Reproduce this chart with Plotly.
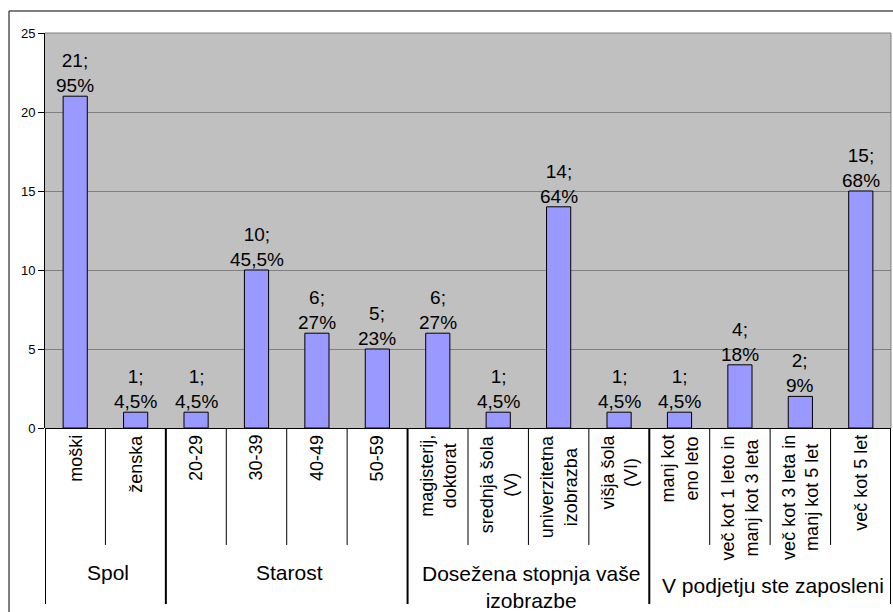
import plotly.graph_objects as go

# Survey answers: category labels, counts and share of respondents
categories = [
    "moški", "ženska",
    "20-29", "30-39", "40-49", "50-59",
    "magisterij,<br>doktorat", "srednja šola<br>(V)", "univerzitetna<br>izobrazba", "višja šola<br>(VI)",
    "manj kot<br>eno leto", "več kot 1 leto in<br>manj kot 3 leta", "več kot 3 leta in<br>manj kot 5 let", "več kot 5 let",
]
counts = [21, 1, 1, 10, 6, 5, 6, 1, 14, 1, 1, 4, 2, 15]
shares = ["95%", "4,5%", "4,5%", "45,5%", "27%", "23%", "27%", "4,5%", "64%", "4,5%", "4,5%", "18%", "9%", "68%"]

# Question groups: title and the index range of their answers
group_titles = ["Spol", "Starost", "Dosežena stopnja vaše<br>izobrazbe", "V podjetju ste zaposleni"]
group_spans = [(0, 1), (2, 5), (6, 9), (10, 13)]

y_ticks = [0, 5, 10, 15, 20, 25]

FONT = "Liberation Sans, Arial, sans-serif"
x_idx = list(range(len(categories)))

fig = go.Figure(
    go.Bar(
        x=x_idx,
        y=counts,
        marker=dict(color="#9999FF", line=dict(color="black", width=1)),
        hoverinfo="skip",
    )
)

shapes = []
annotations = []

# Value labels above the bars: "count;" over "share"
for i, (c, s) in enumerate(zip(counts, shares)):
    annotations.append(dict(x=i, y=c, xref="x", yref="y", text=f"{c};<br>{s}",
                            showarrow=False, xanchor="center", yanchor="bottom", align="center",
                            yshift=-2, font=dict(family=FONT, size=19, color="black")))

# Outer chart frame
shapes.append(dict(type="rect", xref="paper", yref="paper",
                   x0=-0.04255, x1=1.02, y0=-0.52, y1=1.0557,
                   line=dict(color="black", width=1), fillcolor="rgba(0,0,0,0)", layer="below"))

# Divider lines below the axis: thin between answers, thick between groups
group_edges = set()
for a, b in group_spans:
    group_edges.add(a - 0.5)
    group_edges.add(b + 0.5)
for i in range(len(categories) + 1):
    xb = i - 0.5
    if xb in group_edges:
        shapes.append(dict(type="line", xref="x", yref="paper", x0=xb, x1=xb, y0=0, y1=-0.4456,
                           line=dict(color="black", width=2)))
    else:
        shapes.append(dict(type="line", xref="x", yref="paper", x0=xb, x1=xb, y0=0, y1=-0.2962,
                           line=dict(color="black", width=1)))

# Answer labels, rotated
for i, lab in enumerate(categories):
    annotations.append(dict(x=i, y=-0.0127, xref="x", yref="paper", text=lab, textangle=-90,
                            showarrow=False, xanchor="center", yanchor="top", align="center",
                            font=dict(family=FONT, size=18, color="black")))

# Group titles
group_y = [-0.3663, -0.3663, -0.4013, -0.3975]
for title, (a, b), gy in zip(group_titles, group_spans, group_y):
    annotations.append(dict(x=(a + b) / 2 + 0.05, y=gy, xref="x", yref="paper", text=title,
                            showarrow=False, xanchor="center", yanchor="middle", align="center",
                            font=dict(family=FONT, size=21, color="black")))

# Top and right border of the plot area
shapes += [
    dict(type="line", xref="paper", yref="paper", x0=0, x1=1, y0=1, y1=1,
         line=dict(color="#808080", width=1)),
    dict(type="line", xref="paper", yref="paper", x0=1, x1=1, y0=0, y1=1,
         line=dict(color="#808080", width=1)),
]

fig.update_layout(
    width=893, height=612,
    margin=dict(l=45, r=2, t=33, b=184),
    paper_bgcolor="white",
    plot_bgcolor="#C0C0C0",
    showlegend=False,
    bargap=0.6,
    shapes=shapes,
    annotations=annotations,
    xaxis=dict(range=[-0.5, len(categories) - 0.5], showticklabels=False, showgrid=False,
               zeroline=False, showline=False, ticks="", fixedrange=True),
    yaxis=dict(range=[0, 25], tickvals=y_ticks, ticks="outside", ticklen=6, tickcolor="black",
               showline=True, linecolor="black", linewidth=1, mirror=False,
               gridcolor="#808080", gridwidth=1, zeroline=True, zerolinecolor="black",
               zerolinewidth=1, tickfont=dict(family=FONT, size=13, color="black"),
               fixedrange=True),
)

fig.write_html("out.html")
